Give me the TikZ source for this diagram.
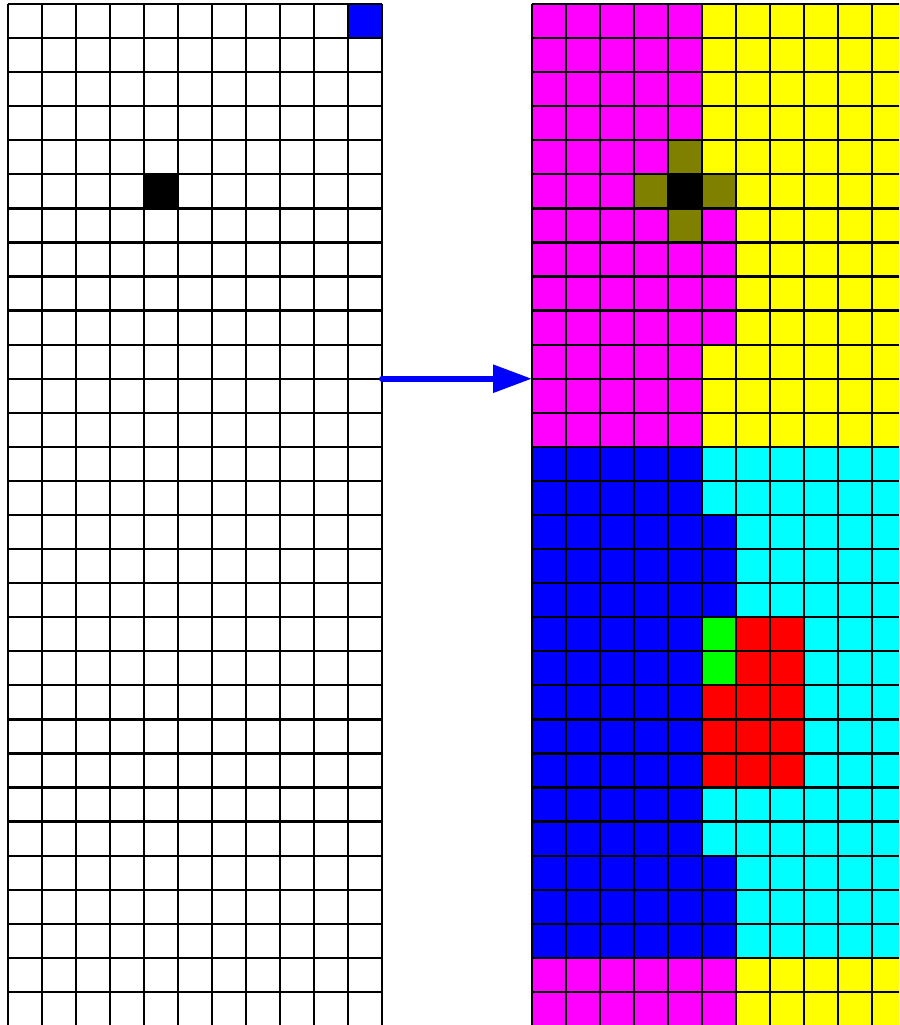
\documentclass[tikz,border=0pt]{standalone}
\usepackage{tikz}
\usetikzlibrary{arrows.meta}
\definecolor{CellMagenta}{RGB}{255,0,255}
\definecolor{CellYellow}{RGB}{255,255,0}
\definecolor{CellBlue}{RGB}{0,0,255}
\definecolor{CellCyan}{RGB}{0,255,255}
\definecolor{CellRed}{RGB}{255,0,0}
\definecolor{CellGreen}{RGB}{0,255,0}
\definecolor{CellOlive}{RGB}{128,128,0}
\tikzset{
  gridline/.style ={draw=black, line width=1.15pt, step=1},
  arr/.style      ={-{Triangle[length=19.5pt,width=13.5pt]}, draw=CellBlue, line width=3pt, line cap=round},
}

\begin{document}
\begin{tikzpicture}[x=0.6cm,y=0.60124cm]
  \useasboundingbox (-0.235,0.117) rectangle (26.21,-29.97);
  \clip (-0.235,0.117) rectangle (26.21,-29.97);
  % input grid
  \fill[CellBlue] (10,0) rectangle (11,-1);
  \fill[black] (4,-5) rectangle (5,-6);
  \draw[gridline] (0,0) grid (11,-31);
  % output grid
  \begin{scope}[shift={(15.41,0)}]
    \fill[CellYellow] (0,0) rectangle (12,-13);
    \fill[CellMagenta] (0,0) rectangle (5,-13);
    \fill[CellMagenta] (5,-6) rectangle (6,-10);
    \foreach \c/\r in {4/4,3/5,5/5,4/6}{\fill[CellOlive] (\c,-\r) rectangle ++(1,-1);}
    \fill[black] (4,-5) rectangle (5,-6);
    \fill[CellCyan] (0,-13) rectangle (12,-28);
    \fill[CellBlue] (0,-13) rectangle (5,-28);
    \fill[CellBlue] (5,-15) rectangle (6,-18);
    \fill[CellBlue] (5,-25) rectangle (6,-28);
    \fill[CellGreen] (5,-18) rectangle (6,-20);
    \fill[CellRed] (6,-18) rectangle (8,-23);
    \fill[CellRed] (5,-20) rectangle (6,-23);
    \fill[CellYellow] (0,-28) rectangle (12,-31);
    \fill[CellMagenta] (0,-28) rectangle (6,-31);
    \draw[gridline] (0,0) grid (12,-31);
  \end{scope}
  \coordinate (inedge) at (11,-11);
  \coordinate (outedge) at (15.41,-11);
  \draw[arr] (inedge) -- (outedge);
\end{tikzpicture}
\end{document}
